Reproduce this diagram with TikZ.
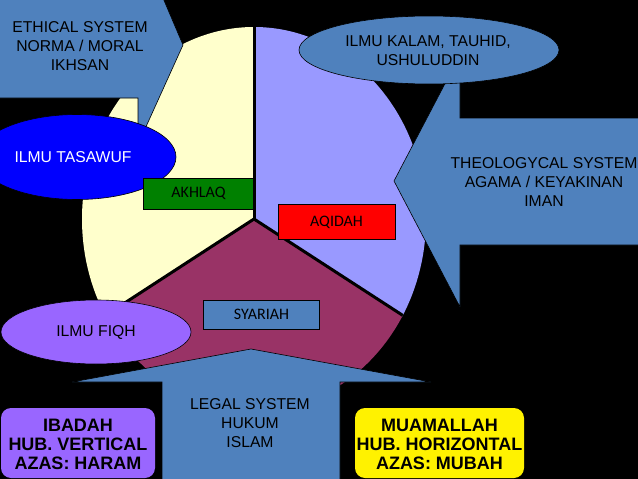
\documentclass[tikz,border=0pt]{standalone}
\usepackage{fontspec}
\setmainfont{Liberation Sans}
\newfontfamily\boxfont{Carlito}
\usetikzlibrary{shapes.geometric}
\definecolor{steel}{HTML}{4F81BD}
\definecolor{pieyellow}{HTML}{FFFFCC}
\definecolor{pielilac}{HTML}{9999FF}
\definecolor{piemaroon}{HTML}{993366}
\definecolor{fiqhpurple}{HTML}{9966FF}
\tikzset{
  label/.style={align=center,inner sep=0pt,font=\fontsize{15.7}{19}\selectfont},
  boldlabel/.style={align=center,inner sep=0pt,font=\fontsize{18}{19}\selectfont\bfseries},
  tag/.style={draw=black,line width=0.8pt,font=\boxfont\fontsize{16}{18}\selectfont},
  outline/.style={draw=black,line width=0.6pt,fill=steel},
  oval/.style={ellipse,draw=black,line width=0.6pt,inner sep=0pt,label}
}
\begin{document}
\begin{tikzpicture}[x=1pt,y=-1pt]

% background
\clip (0,0) rectangle (638,479);
\fill[black] (0,0) rectangle (638,479);

% pie
\begin{scope}
\clip (254,219) ellipse [x radius=172,y radius=192];
\fill[pieyellow] (254,219) -- (254,0) -- (60,0) -- (60,350) -- cycle;
\fill[pielilac] (254,219) -- (254,0) -- (450,0) -- (450,348) -- cycle;
\fill[piemaroon] (254,219) -- (60,345) -- (60,430) -- (450,430) -- (450,346) -- cycle;
\draw[line width=3pt] (254,0) -- (254,219);
\draw[line width=3pt] (254,219) -- (60,345);
\draw[line width=3pt] (254,219) -- (450,346);
\end{scope}

% system arrows
\draw[outline] (-2,-2) -- (163,-2) -- (183,45) -- (140,140) -- (138,140) -- (138,98) -- (-2,98) -- cycle;
\draw[outline] (640,118) -- (460,118) -- (460,55) -- (394,181) -- (460,307) -- (460,245) -- (640,245) -- cycle;
\draw[outline] (251,349) -- (431,382) -- (340,382) -- (340,481) -- (162,481) -- (162,382) -- (72,382) -- cycle;
\node[label] (ethical) at (80,46) {ETHICAL SYSTEM\\NORMA / MORAL\\IKHSAN};
\node[label] (theological) at (544,182.5) {THEOLOGYCAL SYSTEM\\AGAMA / KEYAKINAN\\IMAN};
\node[label] (legal) at (250,423) {LEGAL SYSTEM\\HUKUM\\ISLAM};

% ellipses
\node[oval,fill=blue,minimum width=198pt,minimum height=85pt] (tasawuf) at (77,157) {};
\node[label,text=white] (tasawuftext) at (73,157) {ILMU TASAWUF};
\node[oval,fill=steel,minimum width=260pt,minimum height=68pt] (kalam) at (429,50) {};
\node[label] (kalamtext) at (428,51) {ILMU KALAM, TAUHID,\\USHULUDDIN};
\node[oval,fill=fiqhpurple,minimum width=190pt,minimum height=64pt] (fiqh) at (96,332) {ILMU FIQH};

% pie labels
\node[tag,fill=green!50!black,minimum width=110pt,minimum height=31pt] (akhlaq) at (198.5,193.5) {AKHLAQ};
\node[tag,fill=red,minimum width=117pt,minimum height=35pt] (aqidah) at (336.5,222) {AQIDAH};
\node[tag,fill=steel,minimum width=116pt,minimum height=29pt] (syariah) at (261.5,314.5) {SYARIAH};

% bottom boxes
\node[boldlabel,fill=fiqhpurple,rounded corners=10pt,minimum width=154pt,minimum height=70pt] (ibadah) at (78,443) {};
\node[boldlabel] (ibadahtext) at (78,444) {IBADAH\\HUB. VERTICAL\\AZAS: HARAM};
\node[boldlabel,fill=yellow,rounded corners=10pt,minimum width=169pt,minimum height=70pt] (muamallah) at (439.5,443) {};
\node[boldlabel] (muamallahtext) at (439.5,444) {MUAMALLAH\\HUB. HORIZONTAL\\AZAS: MUBAH};

\end{tikzpicture}
\end{document}
